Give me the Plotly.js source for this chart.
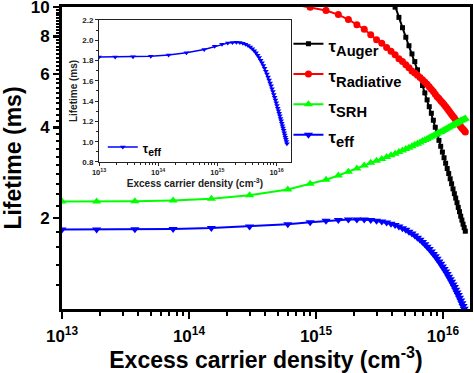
<!DOCTYPE html>
<html><head><meta charset="utf-8">
<script src="https://cdn.plot.ly/plotly-3.0.1.min.js"></script>
<style>html,body{margin:0;padding:0;background:#fff}#chart{width:474px;height:373px}</style>
</head><body><div id="chart"></div>
<script>
const density = [1e13, 1.875e13, 3.75e13, 7.5e13, 1.5e14, 3e14, 6e14, 9e14,
  1.2e15, 1.5e15, 1.8e15, 2.1e15, 2.4e15, 2.7e15, 3e15, 3.3e15, 3.6e15, 3.9e15,
  4.2e15, 4.5e15, 4.8e15, 5.1e15, 5.4e15, 5.7e15, 6e15, 6.3e15, 6.6e15, 6.9e15,
  7.2e15, 7.5e15, 7.8e15, 8.1e15, 8.4e15, 8.7e15, 9e15, 9.3e15, 9.6e15, 9.9e15,
  1.02e16, 1.05e16, 1.08e16, 1.11e16, 1.14e16, 1.17e16, 1.2e16, 1.23e16, 1.26e16,
  1.29e16, 1.32e16, 1.35e16, 1.38e16, 1.41e16, 1.44e16, 1.47e16, 1.5e16];

const tauAuger = [null, null, null, null, null, null, null, null,
  null, null, null, null, null, null, null, null, 12.2, 11.0,
  10.0, 9.25, 8.55, 7.95, 7.45, 7.0, 6.6, 6.2, 5.85, 5.5,
  5.2, 4.93, 4.68, 4.45, 4.22, 4.0, 3.8, 3.62, 3.46, 3.31,
  3.17, 3.04, 2.92, 2.81, 2.70, 2.60, 2.50, 2.41, 2.33,
  2.25, 2.17, 2.10, 2.03, 1.97, 1.91, 1.86, 1.81];

const tauRadiative = [10.9, 10.9, 10.9, 10.9, 10.8, 10.6, 10.3, 10.0,
  9.75, 9.45, 9.1, 8.75, 8.45, 8.1, 7.8, 7.6, 7.35, 7.15,
  6.95, 6.75, 6.6, 6.45, 6.3, 6.15, 6.05, 5.95, 5.85, 5.75,
  5.65, 5.55, 5.45, 5.35, 5.25, 5.15, 5.05, 4.98, 4.9, 4.83,
  4.76, 4.69, 4.62, 4.55, 4.48, 4.41, 4.35, 4.29, 4.23,
  4.17, 4.12, 4.07, 4.02, 3.98, 3.94, 3.9, 3.86];

const tauSRH = [2.27, 2.27, 2.275, 2.29, 2.32, 2.38, 2.49, 2.60,
  2.68, 2.77, 2.85, 2.92, 2.99, 3.05, 3.10, 3.14, 3.19, 3.23,
  3.27, 3.31, 3.35, 3.39, 3.42, 3.46, 3.50, 3.53, 3.56, 3.60,
  3.63, 3.66, 3.69, 3.72, 3.75, 3.78, 3.81, 3.84, 3.86, 3.89,
  3.92, 3.94, 3.97, 3.99, 4.02, 4.04, 4.07, 4.09, 4.11,
  4.14, 4.16, 4.18, 4.20, 4.22, 4.24, 4.26, 4.28];

const tauEff = [1.835, 1.835, 1.838, 1.842, 1.855, 1.877, 1.91, 1.94,
  1.96, 1.972, 1.978, 1.98, 1.978, 1.97, 1.960, 1.948, 1.933, 1.916,
  1.897, 1.876, 1.853, 1.829, 1.804, 1.778, 1.751, 1.723, 1.695, 1.667,
  1.638, 1.609, 1.580, 1.551, 1.522, 1.494, 1.466, 1.438, 1.411, 1.384,
  1.357, 1.331, 1.305, 1.280, 1.255, 1.230, 1.206, 1.182, 1.158,
  1.135, 1.112, 1.089, 1.067, 1.045, 1.023, 1.002, 0.981];

const seriesSubs = ['Auger', 'Radiative', 'SRH', 'eff'];
const xTickVals = [1e13, 1e14, 1e15, 1e16];
const xTickText = ['10<sup>13</sup>', '10<sup>14</sup>', '10<sup>15</sup>', '10<sup>16</sup>'];
const yTickVals = [2, 4, 6, 8, 10];
const yTickText = ['2', '4', '6', '8', '10'];
const insetYTickVals = [0.8, 1.0, 1.2, 1.4, 1.6, 1.8, 2.0, 2.2];
const insetYTickText = ['0.8', '1.0', '1.2', '1.4', '1.6', '1.8', '2.0', '2.2'];

const legendName = (s, px) => '<span style="font-size:' + px + 'px">τ</span><sub>' + s + '</sub>';

// minor tick positions (style only)
const xMinor = [];
[13, 14, 15].forEach(e => { for (let d = 2; d <= 9; d++) xMinor.push(d * Math.pow(10, e)); });
const yMinor = [];
for (let v = 12; v < 100; v += 2) { if (v % 20 !== 0) yMinor.push(v / 10); }
const insetYMinor = [0.9, 1.1, 1.3, 1.5, 1.7, 1.9, 2.1];

const FONT = 'Liberation Sans, Arial, Helvetica, sans-serif';

const traces = [
  {x: density, y: tauAuger, name: legendName(seriesSubs[0], 17), mode: 'lines+markers', legendgroup: 'a',
   line: {color: '#000000', width: 2}, marker: {symbol: 'square', size: 5, color: '#000000'}},
  {x: density, y: tauRadiative, name: legendName(seriesSubs[1], 17), mode: 'lines+markers', legendgroup: 'b',
   line: {color: '#ff0000', width: 2}, marker: {symbol: 'circle', size: 7, color: '#ff0000'}},
  {x: density, y: tauSRH, name: legendName(seriesSubs[2], 17), mode: 'lines+markers', legendgroup: 'c',
   line: {color: '#00ff00', width: 2}, marker: {symbol: 'triangle-up', size: 8, color: '#00ff00'}},
  {x: density, y: tauEff, name: legendName(seriesSubs[3], 17), mode: 'lines+markers', legendgroup: 'd',
   line: {color: '#0000ff', width: 2}, marker: {symbol: 'triangle-down', size: 8, color: '#0000ff'}},
  {x: density, y: tauEff, name: legendName(seriesSubs[3], 12), mode: 'lines+markers', xaxis: 'x2', yaxis: 'y2',
   legend: 'legend2', line: {color: '#0000ff', width: 1.5},
   marker: {symbol: 'triangle-down', size: 5, color: '#0000ff'}}
];

const layout = {
  width: 474, height: 373,
  margin: {l: 62, r: 4, t: 7, b: 64},
  paper_bgcolor: '#ffffff', plot_bgcolor: '#ffffff',
  font: {family: FONT, color: '#000', weight: 'bold'},
  showlegend: true,
  xaxis: {
    type: 'log', range: [13, 16.213], domain: [0, 1], anchor: 'y', automargin: 'bottom',
    tickmode: 'array', tickvals: xTickVals, ticktext: xTickText,
    ticks: 'outside', ticklen: 7, tickwidth: 2.5, tickcolor: '#000',
    showline: true, linewidth: 3, linecolor: '#000', mirror: true,
    showgrid: false, zeroline: false, ticklabeloverflow: 'allow', ticklabelstandoff: 3,
    tickfont: {family: FONT, size: 17, weight: 'bold', color: '#000'},
    minor: {tickmode: 'array', tickvals: xMinor, ticks: 'outside', ticklen: 4, tickwidth: 2, tickcolor: '#000', showgrid: false},
    title: {text: 'Excess carrier density (cm<sup>-3</sup>)', font: {family: FONT, size: 23, weight: 'bold', color: '#000'}, standoff: 3}
  },
  yaxis: {
    type: 'log', range: [0, 1.0005], domain: [0, 1], anchor: 'x', automargin: 'left',
    tickmode: 'array', tickvals: yTickVals, ticktext: yTickText,
    ticks: 'outside', ticklen: 6, tickwidth: 2.5, tickcolor: '#000',
    showline: true, linewidth: 3, linecolor: '#000', mirror: true,
    showgrid: false, zeroline: false, ticklabeloverflow: 'allow',
    tickfont: {family: FONT, size: 17, weight: 'bold', color: '#000'},
    minor: {tickmode: 'array', tickvals: yMinor, ticks: 'outside', ticklen: 3, tickwidth: 2, tickcolor: '#000', showgrid: false},
    title: {text: 'Lifetime (ms)', font: {family: FONT, size: 23, weight: 'bold', color: '#000'}, standoff: 8}
  },
  xaxis2: {
    type: 'log', range: [13, 16.243], domain: [0.0907, 0.561], anchor: 'y2',
    tickmode: 'array', tickvals: xTickVals, ticktext: xTickText,
    ticks: 'outside', ticklen: 3, tickwidth: 1, tickcolor: '#222',
    showline: true, linewidth: 1, linecolor: '#222', mirror: true,
    showgrid: false, zeroline: false,
    tickfont: {family: FONT, size: 7.5, weight: 'bold', color: '#222'},
    minor: {tickmode: 'array', tickvals: xMinor, ticks: 'outside', ticklen: 2, tickwidth: 1, tickcolor: '#222', showgrid: false},
    title: {text: 'Excess carrier density (cm<sup>-3</sup>)', font: {family: FONT, size: 10, weight: 'bold', color: '#222'}, standoff: 2}
  },
  yaxis2: {
    range: [0.8, 2.2], domain: [0.4868, 0.957], anchor: 'x2',
    tickmode: 'array', tickvals: insetYTickVals, ticktext: insetYTickText,
    ticks: 'outside', ticklen: 3, tickwidth: 1, tickcolor: '#222',
    showline: true, linewidth: 1, linecolor: '#222', mirror: true,
    showgrid: false, zeroline: false,
    tickfont: {family: FONT, size: 8, weight: 'bold', color: '#222'},
    minor: {tickmode: 'array', tickvals: insetYMinor, ticks: 'outside', ticklen: 2, tickwidth: 1, tickcolor: '#222', showgrid: false},
    title: {text: 'Lifetime (ms)', font: {family: FONT, size: 10, weight: 'bold', color: '#222'}, standoff: 2}
  },
  legend: {
    x: 0.555, y: 0.945, xanchor: 'left', yanchor: 'top',
    bgcolor: 'rgba(0,0,0,0)', borderwidth: 0,
    traceorder: 'grouped', tracegroupgap: 0,
    font: {family: FONT, size: 21, weight: 'bold', color: '#000'}
  },
  legend2: {
    x: 0.1, y: 0.59, xanchor: 'left', yanchor: 'top',
    bgcolor: 'rgba(0,0,0,0)', borderwidth: 0,
    font: {family: FONT, size: 15, weight: 'bold', color: '#000'}
  }
};

Plotly.newPlot('chart', traces, layout, {displayModeBar: false, staticPlot: true});
</script>
</body></html>
